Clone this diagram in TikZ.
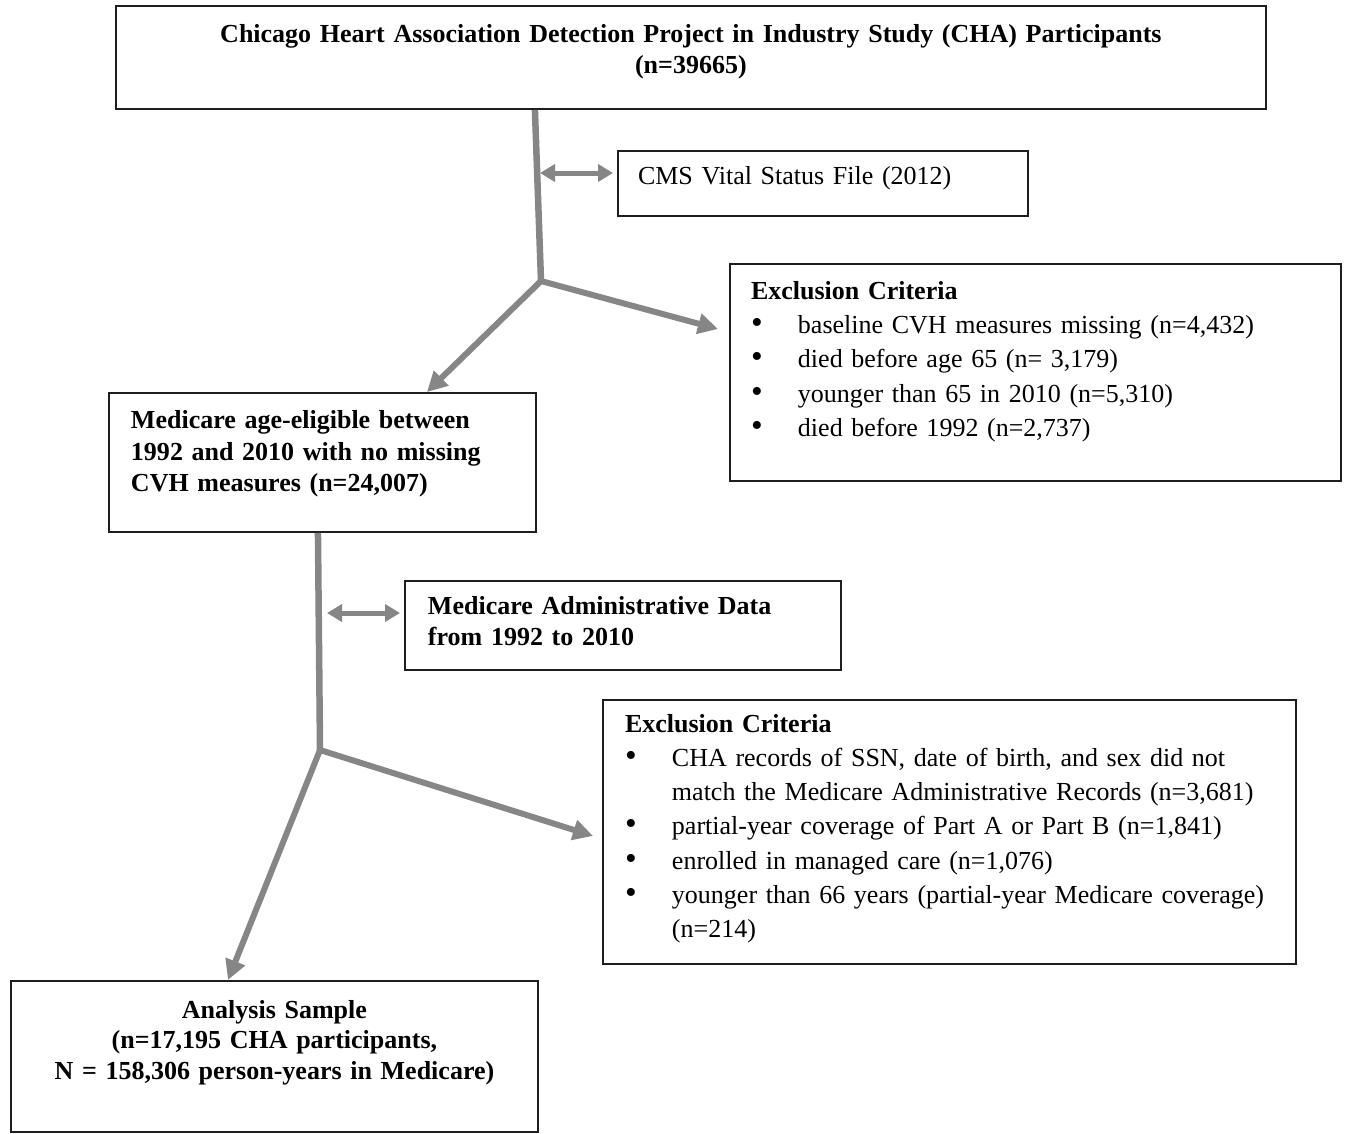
\documentclass[tikz,border=0pt]{standalone}
\usepackage{fontspec}
\setmainfont{Liberation Serif}
\usepackage{tikz}
\usetikzlibrary{arrows.meta, positioning, calc}
\definecolor{boxline}{HTML}{1E1E1E}
\definecolor{flowgray}{HTML}{868686}
\newcommand{\bitem}[1]{\par\hangindent=0.94cm\hangafter=1\noindent\makebox[0.94cm][l]{{\fontsize{19pt}{19pt}\selectfont\textbullet}}#1}

\begin{document}
\begin{tikzpicture}[
  x=0.02cm, y=-0.02cm,
  box/.style={rectangle, draw=boxline, line width=0.04cm, anchor=north west},
  boldtext/.style={font=\fontsize{14.8pt}{18pt}\selectfont\bfseries},
  plaintext/.style={font=\fontsize{14.8pt}{19.5pt}\selectfont},
  trunk/.style={draw=flowgray, line width=0.13cm},
  branch/.style={draw=flowgray, line width=0.12cm, -{Triangle[length=0.4cm, width=0.4cm]}},
  link/.style={draw=flowgray, line width=0.1cm, {Triangle[length=0.3cm, width=0.34cm]}-{Triangle[length=0.3cm, width=0.34cm]}}
]
  \useasboundingbox (0,0) rectangle (1346,1133);

  \node[box, boldtext, minimum width=23cm, minimum height=2.06cm, text width=21.5cm, align=center, text depth=27.5pt]
    (cha) at (115,5) {Chicago Heart Association Detection Project in Industry Study (CHA) Participants\\(n=39665)};
  \node[box, plaintext, minimum width=8.2cm, minimum height=1.3cm, inner xsep=0.4cm, text width=7.4cm, align=left, text depth=9pt]
    (cms) at (617,150) {CMS Vital Status File (2012)};
  \node[box, plaintext, minimum width=12.22cm, minimum height=4.34cm, inner xsep=0.42cm, text width=11.38cm, align=left, text depth=93.5pt]
    (excl1) at (729,263) {\textbf{Exclusion Criteria}
      \bitem{baseline CVH measures missing (n=4,432)}
      \bitem{died before age 65 (n= 3,179)}
      \bitem{younger than 65 in 2010 (n=5,310)}
      \bitem{died before 1992 (n=2,737)}\par};
  \node[box, boldtext, minimum width=8.54cm, minimum height=2.78cm, inner xsep=0.44cm, text width=7.66cm, align=left, text depth=49pt]
    (eligible) at (108,392) {Medicare age-eligible between\\1992 and 2010 with no missing\\CVH measures (n=24,007)};
  \node[box, boldtext, minimum width=8.72cm, minimum height=1.78cm, inner xsep=0.46cm, text width=7.8cm, align=left, text depth=23pt]
    (admin) at (404,580) {Medicare Administrative Data\\from 1992 to 2010};
  \node[box, plaintext, minimum width=13.86cm, minimum height=5.28cm, inner xsep=0.44cm, text width=12.98cm, align=left, text depth=124pt]
    (excl2) at (602,699) {\textbf{Exclusion Criteria}
      \bitem{CHA records of SSN, date of birth, and sex did not\newline match the Medicare Administrative Records (n=3,681)}
      \bitem{partial-year coverage of Part A or Part B (n=1,841)}
      \bitem{enrolled in managed care (n=1,076)}
      \bitem{younger than 66 years (partial-year Medicare coverage)\newline (n=214)}\par};
  \node[box, font=\fontsize{14.8pt}{17.4pt}\selectfont\bfseries, minimum width=10.54cm, minimum height=3.02cm, text width=10cm, align=center, text depth=54pt]
    (sample) at (10,980) {Analysis Sample\\(n=17,195 CHA participants,\\N = 158,306 person-years in Medicare)};

  % upper split
  \coordinate (splitA) at (541,281);
  \coordinate (linkA) at (540,173);
  \draw[trunk] ([xshift=8.4cm]cha.south west) -- (splitA);
  \draw[link, shorten >=0.08cm] (linkA) -- (linkA -| cms.west);
  \draw[branch] (splitA) -- ([xshift=-2.2cm]eligible.north east);
  \draw[branch] (splitA) -- ([shift={(-0.22cm,0.87cm)}]excl1.west);

  % lower split
  \coordinate (splitB) at (320,750);
  \coordinate (linkB) at (327,613);
  \draw[trunk] ([xshift=4.2cm]eligible.south west) -- (splitB);
  \draw[link, shorten >=0.08cm] (linkB) -- (linkB -| admin.west);
  \draw[branch] (splitB) -- ([xshift=4.36cm]sample.north west);
  \draw[branch] (splitB) -- ([shift={(-0.18cm,-0.08cm)}]excl2.west);
\end{tikzpicture}
\end{document}
